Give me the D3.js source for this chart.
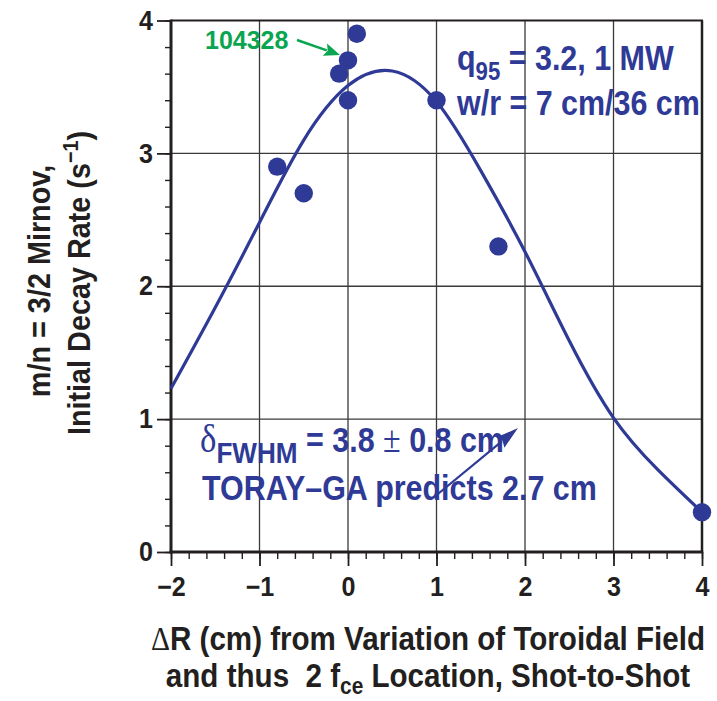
<!DOCTYPE html>
<html><head><meta charset="utf-8">
<script src="https://cdn.jsdelivr.net/npm/d3@7"></script>
<style>
body{margin:0;background:#fff}
svg{display:block}
text{font-family:"Liberation Sans",Arial,Helvetica,sans-serif;font-weight:bold;white-space:pre}
</style>
</head><body><svg id="c" width="717" height="701"></svg>
<script>
// ---- data ----
const pointsX = [-0.8, -0.5, -0.1, 0, 0, 0.1, 1, 1.7, 4];
const pointsY = [2.9, 2.7, 3.6, 3.4, 3.7, 3.9, 3.4, 2.3, 0.3];
const fitX = [-2, -1.5, -1, -0.5, 0, 0.5, 1, 1.5, 2, 2.5, 3, 3.5, 4];
const fitY = [1.23, 1.84, 2.48, 3.10, 3.51, 3.62, 3.39, 2.87, 2.26, 1.59, 1.01, 0.62, 0.30];
const xTicks = [-2, -1, 0, 1, 2, 3, 4];
const xTickLabels = ["\u22122", "\u22121", "0", "1", "2", "3", "4"];
const yTicks = [0, 1, 2, 3, 4];
const yTickLabels = ["0", "1", "2", "3", "4"];

const BLUE = "#2e3a96", INK = "#231f20", GREEN = "#0aa550", GRID = "#3a3a3a";
const svg = d3.select("#c");
const x = d3.scaleLinear().domain([-2, 4]).range([171, 702]);
const y = d3.scaleLinear().domain([0, 4]).range([552, 20.5]);

// grid
const grid = svg.append("g");
grid.selectAll("line.v").data(xTicks.slice(1, -1)).enter().append("line")
  .attr("x1", d => x(d)).attr("x2", d => x(d)).attr("y1", y(0)).attr("y2", y(4))
  .attr("stroke", GRID).attr("stroke-width", 1.3);
grid.selectAll("line.h").data(yTicks.slice(1, -1)).enter().append("line")
  .attr("x1", x(-2)).attr("x2", x(4)).attr("y1", d => y(d)).attr("y2", d => y(d))
  .attr("stroke", GRID).attr("stroke-width", 1.3);
// top and right frame
svg.append("line").attr("x1", x(-2)).attr("x2", x(4) + 1).attr("y1", y(4)).attr("y2", y(4))
  .attr("stroke", INK).attr("stroke-width", 2.2);
svg.append("line").attr("x1", x(4)).attr("x2", x(4)).attr("y1", y(4)).attr("y2", y(0))
  .attr("stroke", INK).attr("stroke-width", 2.5);

// minor ticks
const minorX = d3.range(-2, 4.001, 0.2);
const minorY = d3.range(0, 4.001, 0.2);
const axMinX = svg.append("g").attr("transform", `translate(0,${y(0)})`)
  .call(d3.axisBottom(x).tickValues(minorX).tickSize(7).tickSizeOuter(0).tickFormat(""));
const axMinY = svg.append("g").attr("transform", `translate(${x(-2)},0)`)
  .call(d3.axisLeft(y).tickValues(minorY).tickSize(6).tickSizeOuter(0).tickFormat(""));
[axMinX, axMinY].forEach(a => { a.select(".domain").remove(); a.selectAll("line").attr("stroke", INK).attr("stroke-width", 1.4); });

// major axes
const sxTick = 0.93;
const axX = svg.append("g").attr("transform", `translate(0,${y(0)})`)
  .call(d3.axisBottom(x).tickValues(xTicks).tickSize(14).tickSizeOuter(0)
    .tickFormat((d, i) => xTickLabels[i]));
axX.select(".domain").remove();
axX.selectAll("line").attr("stroke", INK).attr("stroke-width", 1.8);
axX.selectAll("text").attr("fill", INK).attr("font-size", 27).attr("y", 25)
  .attr("font-family", "Liberation Sans, Arial, sans-serif").attr("font-weight", "bold")
  .attr("transform", `scale(${sxTick},1)`);

const axY = svg.append("g").attr("transform", `translate(${x(-2)},0)`)
  .call(d3.axisLeft(y).tickValues(yTicks).tickSize(14).tickSizeOuter(0)
    .tickFormat((d, i) => yTickLabels[i]));
axY.select(".domain").remove();
axY.selectAll("line").attr("stroke", INK).attr("stroke-width", 1.8);
axY.selectAll("text").attr("fill", INK).attr("font-size", 27).attr("x", -18 / sxTick)
  .attr("font-family", "Liberation Sans, Arial, sans-serif").attr("font-weight", "bold")
  .attr("transform", `scale(${sxTick},1)`);

// left & bottom thick axis lines
svg.append("line").attr("x1", x(-2)).attr("x2", x(-2)).attr("y1", y(4) - 1).attr("y2", y(0) + 1.5)
  .attr("stroke", INK).attr("stroke-width", 3);
svg.append("line").attr("x1", x(-2) - 1.5).attr("x2", x(4) + 1.2).attr("y1", y(0)).attr("y2", y(0))
  .attr("stroke", INK).attr("stroke-width", 3);

// fit curve
const fit = fitX.map((v, i) => [v, fitY[i]]);
svg.append("path").datum(fit)
  .attr("d", d3.line().x(d => x(d[0])).y(d => y(d[1])).curve(d3.curveNatural))
  .attr("fill", "none").attr("stroke", BLUE).attr("stroke-width", 3.2);

// points
svg.selectAll("circle.pt").data(pointsX.map((v, i) => [v, pointsY[i]])).enter().append("circle")
  .attr("cx", d => x(d[0])).attr("cy", d => y(d[1])).attr("r", 9.2).attr("fill", BLUE);

// helpers
function label(px, py, sx, size, color, anchor) {
  return svg.append("text").attr("transform", `translate(${px},${py}) scale(${sx},1)`)
    .attr("font-size", size).attr("fill", color).attr("text-anchor", anchor || "start");
}
function arrow(x1, y1, x2, y2, color, w, hl, hw) {
  const a = Math.atan2(y2 - y1, x2 - x1), c = Math.cos(a), s = Math.sin(a);
  const bx = x2 - hl * c, by = y2 - hl * s;
  svg.append("line").attr("x1", x1).attr("y1", y1).attr("x2", bx + 2 * c).attr("y2", by + 2 * s)
    .attr("stroke", color).attr("stroke-width", w);
  svg.append("path").attr("d",
    `M${x2},${y2}L${bx - hw * s},${by + hw * c}L${bx + 3 * c},${by + 3 * s}L${bx + hw * s},${by - hw * c}Z`)
    .attr("fill", color);
}

// green shot label
label(205, 48.5, 0.98, 25.5, GREEN).text("104328");
arrow(297, 40, 340, 55, GREEN, 2.6, 16, 6.5);

// q95 annotation
const t1 = label(457, 70, 0.87, 35, BLUE);
t1.append("tspan").text("q");
t1.append("tspan").attr("font-size", 25.5).attr("dy", 10).text("95");
t1.append("tspan").attr("dy", -10).text(" = 3.2, 1 MW");
label(457, 115, 0.87, 35, BLUE).text("w/r = 7 cm/36 cm");

// FWHM annotation
const t3 = label(200, 452, 0.87, 35, BLUE);
t3.append("tspan").attr("font-family", "Liberation Serif, Times New Roman, serif").attr("font-weight", "normal")
  .attr("font-size", 40).text("\u03b4");
t3.append("tspan").attr("font-size", 30).attr("dy", 11).text("FWHM");
t3.append("tspan").attr("dy", -11).text(" = 3.8 ");
t3.append("tspan").attr("font-family", "Liberation Serif, Times New Roman, serif").attr("font-weight", "normal")
  .attr("font-size", 37).text("\u00b1");
t3.append("tspan").text(" 0.8 cm");
label(202, 500, 0.87, 35, BLUE).text("TORAY\u2013GA predicts 2.7 cm");
arrow(433, 498, 518, 428, BLUE, 2.2, 23, 6.5);

// axis titles
const xt1 = label(428, 650, 0.87, 34, INK, "middle");
xt1.append("tspan").attr("font-family", "Liberation Serif, Times New Roman, serif").attr("font-weight", "normal").text("\u0394");
xt1.append("tspan").text("R (cm) from Variation of Toroidal Field");
const xt2 = label(428, 687, 0.87, 34, INK, "middle");
xt2.append("tspan").text("and thus  2 f");
xt2.append("tspan").attr("font-size", 24).attr("dy", 7).text("ce");
xt2.append("tspan").attr("dy", -7).text(" Location, Shot-to-Shot");

svg.append("text").attr("transform", "translate(50,281) rotate(-90) scale(0.9,1)")
  .attr("font-size", 32).attr("fill", INK).attr("text-anchor", "middle").text("m/n = 3/2 Mirnov,");
const yt2 = svg.append("text").attr("transform", "translate(90,283) rotate(-90) scale(0.9,1)")
  .attr("font-size", 32).attr("fill", INK).attr("text-anchor", "middle");
yt2.append("tspan").text("Initial Decay Rate (s");
yt2.append("tspan").attr("font-size", 22).attr("dy", -12).text("\u22121");
yt2.append("tspan").attr("dy", 12).text(")");
</script>
</body></html>
